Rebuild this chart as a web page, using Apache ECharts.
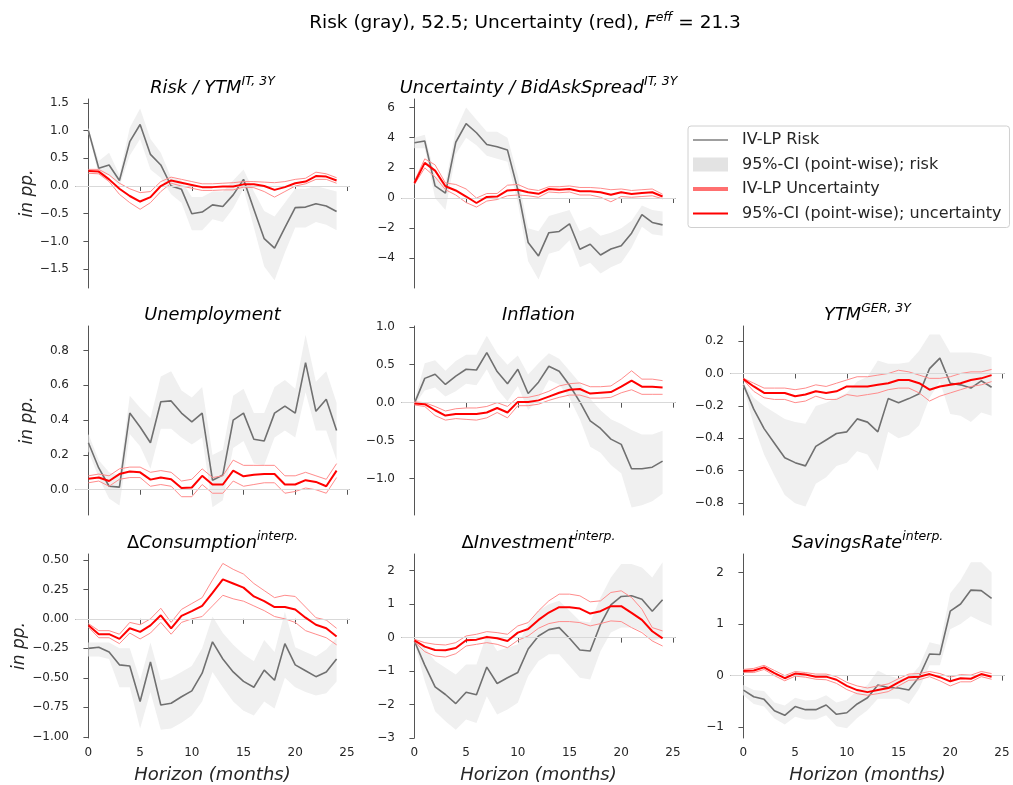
<!DOCTYPE html>
<html>
<head>
<meta charset="utf-8">
<script src="https://cdn.jsdelivr.net/npm/echarts@6/dist/echarts.min.js"></script>
<style>
html, body { margin: 0; padding: 0; background: #fff; }
#chart { width: 1013px; height: 785px; }
</style>
</head>
<body>
<div id="chart"></div>
<script>
var horizon = [0, 1, 2, 3, 4, 5, 6, 7, 8, 9, 10, 11, 12, 13, 14, 15, 16, 17, 18, 19, 20, 21, 22, 23, 24];
var xTicks = [0, 5, 10, 15, 20, 25];

// Risk / YTM IT 3Y
var ytmRisk   = [1.0, 0.32, 0.38, 0.1, 0.8, 1.11, 0.57, 0.38, 0.0, -0.06, -0.5, -0.47, -0.34, -0.37, -0.16, 0.12, -0.42, -0.95, -1.12, -0.75, -0.39, -0.38, -0.32, -0.36, -0.46];
var ytmRiskHi = [1.05, 0.45, 0.6, 0.2, 1.05, 1.4, 0.85, 0.6, 0.15, 0.1, -0.2, -0.2, -0.1, -0.1, 0.1, 0.3, -0.1, -0.45, -0.55, -0.3, -0.05, -0.05, 0.0, -0.05, -0.1];
var ytmRiskLo = [0.95, 0.2, 0.2, 0.0, 0.55, 0.85, 0.3, 0.15, -0.15, -0.3, -0.8, -0.8, -0.6, -0.65, -0.4, -0.05, -0.75, -1.45, -1.7, -1.2, -0.75, -0.75, -0.65, -0.7, -0.8];
var ytmUnc    = [0.27, 0.26, 0.12, -0.05, -0.18, -0.28, -0.2, 0.0, 0.1, 0.06, 0.02, -0.02, -0.02, -0.01, -0.01, 0.03, 0.03, 0.0, -0.07, -0.02, 0.05, 0.08, 0.18, 0.17, 0.1];
var ytmUncHi  = [0.3, 0.3, 0.2, 0.05, -0.05, -0.12, -0.1, 0.08, 0.16, 0.12, 0.08, 0.04, 0.04, 0.05, 0.06, 0.08, 0.08, 0.07, 0.06, 0.08, 0.12, 0.14, 0.25, 0.22, 0.15];
var ytmUncLo  = [0.23, 0.22, 0.08, -0.15, -0.3, -0.42, -0.3, -0.1, 0.05, 0.0, -0.04, -0.08, -0.08, -0.07, -0.07, -0.02, -0.03, -0.1, -0.2, -0.1, 0.0, 0.04, 0.12, 0.12, 0.05];

// Uncertainty / BidAskSpread IT 3Y
var basRisk   = [3.67, 3.78, 0.8, 0.33, 3.7, 4.93, 4.33, 3.55, 3.4, 3.18, 0.55, -2.95, -3.84, -2.3, -2.22, -1.71, -3.4, -3.07, -3.78, -3.38, -3.16, -2.33, -1.1, -1.62, -1.78];
var basRiskHi = [4.0, 4.2, 1.5, 1.0, 4.5, 6.0, 5.2, 4.4, 4.4, 4.0, 1.5, -2.0, -2.2, -1.2, -1.0, -0.8, -2.2, -1.9, -2.5, -2.3, -2.0, -1.5, -0.5, -0.8, -0.9];
var basRiskLo = [3.3, 3.3, 0.0, -0.8, 2.9, 4.0, 3.5, 2.8, 2.6, 2.4, -0.3, -4.2, -5.4, -3.7, -3.5, -2.8, -4.6, -4.3, -5.0, -4.6, -4.3, -3.3, -1.9, -2.4, -2.5];
var basUnc    = [1.0, 2.33, 1.82, 0.78, 0.5, 0.1, -0.33, 0.07, 0.1, 0.5, 0.55, 0.38, 0.28, 0.6, 0.55, 0.6, 0.45, 0.45, 0.38, 0.22, 0.38, 0.27, 0.33, 0.38, 0.1];
var basUncHi  = [1.1, 2.6, 2.2, 1.0, 0.9, 0.6, 0.0, 0.3, 0.3, 0.85, 0.9, 0.6, 0.5, 0.75, 0.75, 0.8, 0.7, 0.7, 0.65, 0.55, 0.6, 0.5, 0.55, 0.6, 0.25];
var basUncLo  = [0.9, 2.0, 1.4, 0.55, 0.2, -0.3, -0.6, -0.2, -0.1, 0.15, 0.2, 0.15, 0.05, 0.4, 0.35, 0.4, 0.2, 0.2, 0.05, -0.25, 0.1, 0.05, 0.1, 0.15, -0.05];

// Unemployment
var unRisk   = [0.27, 0.125, 0.02, 0.015, 0.44, 0.36, 0.27, 0.505, 0.51, 0.44, 0.39, 0.44, 0.055, 0.085, 0.4, 0.44, 0.29, 0.28, 0.44, 0.48, 0.44, 0.73, 0.45, 0.52, 0.34];
var unRiskHi = [0.32, 0.17, 0.1, 0.08, 0.54, 0.47, 0.41, 0.65, 0.68, 0.57, 0.53, 0.59, 0.2, 0.23, 0.54, 0.58, 0.44, 0.44, 0.59, 0.63, 0.58, 0.89, 0.62, 0.68, 0.5];
var unRiskLo = [0.22, 0.07, -0.05, -0.09, 0.32, 0.25, 0.12, 0.35, 0.35, 0.3, 0.26, 0.3, -0.1, -0.06, 0.24, 0.28, 0.15, 0.14, 0.3, 0.34, 0.3, 0.56, 0.34, 0.34, 0.17];
var unUnc    = [0.063, 0.07, 0.05, 0.09, 0.105, 0.1, 0.058, 0.07, 0.06, 0.01, 0.013, 0.08, 0.03, 0.03, 0.11, 0.077, 0.086, 0.09, 0.09, 0.03, 0.03, 0.055, 0.045, 0.02, 0.11];
var unUncHi  = [0.08, 0.09, 0.08, 0.12, 0.13, 0.13, 0.1, 0.11, 0.1, 0.05, 0.06, 0.12, 0.07, 0.08, 0.17, 0.14, 0.14, 0.14, 0.14, 0.08, 0.08, 0.1, 0.08, 0.06, 0.15];
var unUncLo  = [0.04, 0.05, 0.02, 0.06, 0.07, 0.07, 0.02, 0.03, 0.02, -0.04, -0.04, 0.03, -0.02, -0.02, 0.05, 0.02, 0.03, 0.04, 0.04, -0.02, -0.01, 0.01, 0.0, -0.02, 0.07];

// Inflation
var infRisk   = [-0.01, 0.32, 0.375, 0.24, 0.35, 0.44, 0.43, 0.66, 0.41, 0.25, 0.44, 0.12, 0.27, 0.48, 0.415, 0.23, 0.01, -0.24, -0.34, -0.48, -0.55, -0.87, -0.87, -0.85, -0.77];
var infRiskHi = [0.02, 0.52, 0.56, 0.42, 0.55, 0.63, 0.63, 0.88, 0.65, 0.5, 0.62, 0.37, 0.52, 0.65, 0.58, 0.42, 0.26, 0.05, -0.1, -0.22, -0.28, -0.36, -0.42, -0.42, -0.37];
var infRiskLo = [-0.03, 0.16, 0.2, 0.08, 0.15, 0.25, 0.23, 0.44, 0.18, 0.02, 0.22, -0.1, 0.05, 0.3, 0.24, 0.06, -0.22, -0.58, -0.66, -0.82, -0.93, -1.38, -1.35, -1.3, -1.2];
var infUnc    = [-0.01, -0.02, -0.1, -0.17, -0.15, -0.15, -0.15, -0.13, -0.07, -0.13, 0.01, 0.01, 0.03, 0.08, 0.13, 0.17, 0.18, 0.12, 0.13, 0.14, 0.21, 0.29, 0.21, 0.21, 0.2];
var infUncHi  = [0.01, 0.0, -0.05, -0.11, -0.08, -0.07, -0.07, -0.05, 0.0, -0.05, 0.07, 0.07, 0.1, 0.15, 0.22, 0.25, 0.26, 0.21, 0.21, 0.22, 0.31, 0.42, 0.31, 0.31, 0.29];
var infUncLo  = [-0.03, -0.05, -0.17, -0.23, -0.21, -0.22, -0.23, -0.2, -0.13, -0.2, -0.04, -0.04, -0.02, 0.03, 0.07, 0.1, 0.1, 0.06, 0.06, 0.07, 0.13, 0.17, 0.11, 0.11, 0.11];

// YTM GER 3Y
var gerRisk   = [-0.07, -0.22, -0.34, -0.43, -0.52, -0.55, -0.57, -0.45, -0.41, -0.37, -0.36, -0.28, -0.3, -0.36, -0.155, -0.18, -0.155, -0.125, 0.03, 0.095, -0.06, -0.07, -0.09, -0.045, -0.085];
var gerRiskHi = [-0.06, -0.15, -0.2, -0.24, -0.28, -0.3, -0.31, -0.2, -0.18, -0.15, -0.12, -0.05, -0.02, 0.08, 0.06, 0.06, 0.07, 0.14, 0.24, 0.24, 0.13, 0.13, 0.13, 0.12, 0.1];
var gerRiskLo = [-0.08, -0.32, -0.5, -0.63, -0.75, -0.8, -0.82, -0.68, -0.64, -0.57, -0.55, -0.48, -0.5, -0.6, -0.36, -0.4, -0.38, -0.32, -0.15, -0.05, -0.25, -0.26, -0.3, -0.24, -0.26];
var gerUnc    = [-0.035, -0.08, -0.12, -0.12, -0.12, -0.14, -0.13, -0.11, -0.12, -0.11, -0.08, -0.08, -0.08, -0.07, -0.06, -0.04, -0.04, -0.06, -0.1, -0.08, -0.07, -0.06, -0.04, -0.03, -0.01];
var gerUncHi  = [-0.03, -0.06, -0.09, -0.09, -0.09, -0.1, -0.09, -0.07, -0.08, -0.06, -0.04, -0.02, -0.02, -0.01, 0.0, 0.02, 0.01, -0.01, -0.03, -0.03, -0.02, 0.0, 0.01, 0.01, 0.025];
var gerUncLo  = [-0.04, -0.11, -0.15, -0.16, -0.16, -0.18, -0.17, -0.14, -0.16, -0.16, -0.13, -0.14, -0.13, -0.12, -0.1, -0.09, -0.09, -0.12, -0.17, -0.14, -0.12, -0.1, -0.08, -0.07, -0.05];

// Delta Consumption
var conRisk   = [-0.25, -0.24, -0.28, -0.39, -0.4, -0.7, -0.365, -0.73, -0.715, -0.66, -0.61, -0.46, -0.195, -0.34, -0.45, -0.53, -0.58, -0.435, -0.52, -0.21, -0.39, -0.44, -0.49, -0.45, -0.34];
var conRiskHi = [-0.2, -0.2, -0.2, -0.25, -0.25, -0.52, -0.2, -0.52, -0.5, -0.45, -0.4, -0.25, 0.02, -0.12, -0.22, -0.3, -0.36, -0.18, -0.28, 0.06, -0.24, -0.28, -0.32, -0.26, -0.16];
var conRiskLo = [-0.32, -0.32, -0.34, -0.58, -0.58, -0.93, -0.62, -0.94, -0.93, -0.88, -0.82, -0.7, -0.45, -0.58, -0.7, -0.78, -0.82, -0.7, -0.76, -0.5, -0.58, -0.62, -0.65, -0.63, -0.53];
var conUnc    = [-0.055, -0.13, -0.13, -0.17, -0.08, -0.11, -0.055, 0.03, -0.08, 0.025, 0.065, 0.11, 0.22, 0.335, 0.3, 0.265, 0.19, 0.15, 0.1, 0.1, 0.08, 0.01, -0.05, -0.08, -0.15];
var conUncHi  = [-0.04, -0.1, -0.1, -0.13, -0.03, -0.05, 0.0, 0.09, -0.03, 0.08, 0.13, 0.18, 0.33, 0.47, 0.42, 0.38, 0.3, 0.24, 0.18, 0.2, 0.19, 0.1, 0.01, -0.01, -0.08];
var conUncLo  = [-0.07, -0.16, -0.16, -0.21, -0.12, -0.17, -0.12, -0.03, -0.13, -0.03, 0.0, 0.02, 0.11, 0.2, 0.17, 0.15, 0.11, 0.07, 0.02, 0.0, -0.03, -0.1, -0.13, -0.16, -0.22];

// Delta Investment
var invRisk   = [-0.1, -0.82, -1.47, -1.7, -1.97, -1.63, -1.71, -0.88, -1.37, -1.2, -1.04, -0.34, 0.05, 0.24, 0.3, -0.02, -0.37, -0.4, 0.4, 0.98, 1.23, 1.25, 1.15, 0.79, 1.13];
var invRiskHi = [-0.05, -0.3, -0.7, -0.9, -1.1, -0.8, -0.8, 0.1, -0.4, -0.3, -0.2, 0.4, 0.8, 1.0, 1.1, 0.8, 0.5, 0.45, 1.2, 1.8, 2.2, 2.2, 2.1, 1.8, 2.25];
var invRiskLo = [-0.15, -1.3, -2.2, -2.5, -2.75, -2.45, -2.55, -1.75, -2.3, -2.15, -1.95, -1.15, -0.7, -0.5, -0.5, -0.85, -1.2, -1.25, -0.4, 0.15, 0.3, 0.3, 0.2, -0.1, 0.0];
var invUnc    = [-0.08, -0.27, -0.37, -0.38, -0.31, -0.08, -0.06, 0.02, -0.02, -0.1, 0.15, 0.26, 0.53, 0.75, 0.91, 0.91, 0.87, 0.72, 0.79, 0.94, 0.94, 0.74, 0.53, 0.19, -0.02];
var invUncHi  = [-0.05, -0.15, -0.2, -0.22, -0.15, 0.05, 0.1, 0.18, 0.15, 0.1, 0.35, 0.45, 0.8, 1.1, 1.3, 1.3, 1.25, 1.07, 1.1, 1.35, 1.4, 1.2, 0.85, 0.3, 0.2];
var invUncLo  = [-0.12, -0.42, -0.55, -0.58, -0.48, -0.25, -0.2, -0.15, -0.2, -0.3, -0.08, 0.05, 0.28, 0.42, 0.48, 0.48, 0.45, 0.35, 0.42, 0.5, 0.48, 0.3, 0.15, -0.1, -0.25];

// Savings rate
var savRisk   = [-0.28, -0.41, -0.46, -0.68, -0.77, -0.6, -0.66, -0.66, -0.57, -0.75, -0.72, -0.55, -0.43, -0.18, -0.23, -0.24, -0.28, -0.02, 0.42, 0.41, 1.25, 1.39, 1.66, 1.65, 1.5];
var savRiskHi = [-0.18, -0.28, -0.3, -0.52, -0.58, -0.43, -0.48, -0.47, -0.38, -0.52, -0.47, -0.3, -0.18, 0.1, 0.0, -0.05, -0.05, 0.18, 0.65, 0.6, 1.6, 1.85, 2.2, 2.2, 2.0];
var savRiskLo = [-0.38, -0.55, -0.6, -0.83, -0.95, -0.8, -0.85, -0.85, -0.77, -0.98, -1.02, -0.82, -0.67, -0.45, -0.45, -0.45, -0.55, -0.25, 0.2, 0.2, 0.9, 1.0, 1.15, 1.05, 0.97];
var savUnc    = [0.09, 0.1, 0.16, 0.05, -0.05, 0.04, 0.02, -0.02, -0.02, -0.08, -0.2, -0.28, -0.32, -0.28, -0.24, -0.13, -0.03, -0.02, 0.03, -0.03, -0.11, -0.05, -0.06, 0.03, -0.02];
var savUncHi  = [0.12, 0.14, 0.2, 0.1, 0.0, 0.08, 0.06, 0.03, 0.03, -0.02, -0.13, -0.2, -0.24, -0.2, -0.16, -0.06, 0.03, 0.04, 0.08, 0.04, -0.03, 0.02, 0.01, 0.08, 0.04];
var savUncLo  = [0.06, 0.06, 0.12, 0.0, -0.1, -0.01, -0.03, -0.07, -0.08, -0.15, -0.27, -0.35, -0.38, -0.35, -0.31, -0.2, -0.09, -0.08, -0.02, -0.1, -0.2, -0.12, -0.12, -0.02, -0.07];

// y tick labels
var ytmTicks = [-1.5, -1.0, -0.5, 0.0, 0.5, 1.0, 1.5];
var basTicks = [-4, -2, 0, 2, 4, 6];
var unTicks  = [0.0, 0.2, 0.4, 0.6, 0.8];
var infTicks = [-1.0, -0.5, 0.0, 0.5, 1.0];
var gerTicks = [-0.8, -0.6, -0.4, -0.2, 0.0, 0.2];
var conTicks = [-1.0, -0.75, -0.5, -0.25, 0.0, 0.25, 0.5];
var invTicks = [-3, -2, -1, 0, 1, 2];
var savTicks = [-1, 0, 1, 2];

var colLeft = [76, 402, 731];
var rowTop = [99, 326, 554];
var cellW = 273, cellH = 189;

var panels = [
  { row: 0, col: 0, title: '{t|Risk / YTM}{s|IT, 3Y}', risk: ytmRisk, riskHi: ytmRiskHi, riskLo: ytmRiskLo, unc: ytmUnc, uncHi: ytmUncHi, uncLo: ytmUncLo, ticks: ytmTicks, min: -1.84, max: 1.57, dec: 1 },
  { row: 0, col: 1, title: '{t|Uncertainty / BidAskSpread}{s|IT, 3Y}', risk: basRisk, riskHi: basRiskHi, riskLo: basRiskLo, unc: basUnc, uncHi: basUncHi, uncLo: basUncLo, ticks: basTicks, min: -5.97, max: 6.57, dec: 0 },
  { row: 1, col: 0, title: '{t|Unemployment}', risk: unRisk, riskHi: unRiskHi, riskLo: unRiskLo, unc: unUnc, uncHi: unUncHi, uncLo: unUncLo, ticks: unTicks, min: -0.145, max: 0.94, dec: 1 },
  { row: 1, col: 1, title: '{t|Inflation}', risk: infRisk, riskHi: infRiskHi, riskLo: infRiskLo, unc: infUnc, uncHi: infUncHi, uncLo: infUncLo, ticks: infTicks, min: -1.48, max: 1.01, dec: 1 },
  { row: 1, col: 2, title: '{t|YTM}{s|GER, 3Y}', risk: gerRisk, riskHi: gerRiskHi, riskLo: gerRiskLo, unc: gerUnc, uncHi: gerUncHi, uncLo: gerUncLo, ticks: gerTicks, min: -0.873, max: 0.293, dec: 1 },
  { row: 2, col: 0, title: '{d|\u0394}{t|Consumption}{s|interp.}', risk: conRisk, riskHi: conRiskHi, riskLo: conRiskLo, unc: conUnc, uncHi: conUncHi, uncLo: conUncLo, ticks: conTicks, min: -1.01, max: 0.55, dec: 2 },
  { row: 2, col: 1, title: '{d|\u0394}{t|Investment}{s|interp.}', risk: invRisk, riskHi: invRiskHi, riskLo: invRiskLo, unc: invUnc, uncHi: invUncHi, uncLo: invUncLo, ticks: invTicks, min: -3.0, max: 2.5, dec: 0 },
  { row: 2, col: 2, title: '{t|SavingsRate}{s|interp.}', risk: savRisk, riskHi: savRiskHi, riskLo: savRiskLo, unc: savUnc, uncHi: savUncHi, uncLo: savUncLo, ticks: savTicks, min: -1.21, max: 2.36, dec: 0 }
];

var axisColor = '#555555';
var textColor = '#262626';
var bandColor = '#f0f0f0';
var riskColor = '#707070';
var uncColor = '#ff0000';
var ciColor = '#ff8c8c';
var font = 'DejaVu Sans';

function pairs(arr) {
  return horizon.map(function (h, i) { return [h, arr[i]]; });
}
function fmt(dec) {
  return function (v) { return v.toFixed(dec).replace('-', '\u2212'); };
}
// legend line icon: a bar of thickness t centred in a 35x14 box
function lineIcon(t) {
  var a = (7 - t / 2).toFixed(2), b = (7 + t / 2).toFixed(2);
  return 'path://M0,0L35,0L35,0.01L0,0.01Z M0,' + a + 'L35,' + a + 'L35,' + b + 'L0,' + b + 'Z M0,13.99L35,13.99L35,14L0,14Z';
}
// CI band polygon: lower edge forwards, upper edge back
function renderBand(params, api) {
  if (params.dataIndexInside !== 0) return null;
  var n = params.dataInsideLength, pts = [], k;
  for (k = 0; k < n; k++) pts.push(api.coord([api.value(0, k), api.value(1, k)]));
  for (k = n - 1; k >= 0; k--) pts.push(api.coord([api.value(0, k), api.value(2, k)]));
  return { type: 'polygon', shape: { points: pts }, style: { fill: bandColor, stroke: null } };
}

var titleRich = {
  t: { fontFamily: font, fontSize: 17.8, fontStyle: 'italic', color: textColor, verticalAlign: 'bottom', lineHeight: 22 },
  d: { fontFamily: font, fontSize: 17.8, color: textColor, verticalAlign: 'bottom', lineHeight: 22 },
  s: { fontFamily: font, fontSize: 12.5, fontStyle: 'italic', color: textColor, verticalAlign: 'top', lineHeight: 13 }
};

var grids = [], xAxes = [], yAxes = [], series = [];
var graphics = [{
  type: 'text', x: 525, y: 22,
  style: {
    text: '{n|Risk (gray), 52.5; Uncertainty (red), }{i|F}{s|eff}{n| = 21.3}',
    textAlign: 'center', textVerticalAlign: 'middle',
    rich: {
      n: { fontFamily: font, fontSize: 18.5, color: textColor, verticalAlign: 'bottom', lineHeight: 22 },
      i: { fontFamily: font, fontSize: 18.5, fontStyle: 'italic', color: textColor, verticalAlign: 'bottom', lineHeight: 22 },
      s: { fontFamily: font, fontSize: 12.5, fontStyle: 'italic', color: textColor, verticalAlign: 'top', lineHeight: 13 }
    }
  }
}];

panels.forEach(function (p, i) {
  var left = colLeft[p.col], top = rowTop[p.row];
  grids.push({ left: left, top: top, width: cellW, height: cellH });
  graphics.push({
    type: 'text', x: left + cellW / 2, y: top - 13,
    style: { text: p.title, textAlign: 'center', textVerticalAlign: 'middle', rich: titleRich }
  });
  xAxes.push({
    type: 'value', gridIndex: i, min: -1.2, max: 25.2,
    axisLine: { lineStyle: { color: axisColor, width: 1 } },
    axisTick: { length: 5, lineStyle: { color: axisColor }, customValues: xTicks },
    axisLabel: { show: p.row === 2, customValues: xTicks, color: textColor, fontSize: 12, fontFamily: font, margin: 9 },
    splitLine: { show: false },
    name: p.row === 2 ? 'Horizon (months)' : '',
    nameLocation: 'middle', nameGap: 28,
    nameTextStyle: { fontStyle: 'italic', fontSize: 18, fontFamily: font, color: textColor }
  });
  yAxes.push({
    type: 'value', gridIndex: i, min: p.min, max: p.max,
    axisLine: { show: true, lineStyle: { color: axisColor, width: 1 } },
    axisTick: { show: true, length: 5, lineStyle: { color: axisColor }, customValues: p.ticks },
    axisLabel: { customValues: p.ticks, formatter: fmt(p.dec), color: textColor, fontSize: 12, fontFamily: font, margin: 7 },
    splitLine: { show: false },
    name: p.col === 0 ? 'in pp.' : '',
    nameLocation: 'middle', nameGap: 40,
    nameTextStyle: { fontStyle: 'italic', fontSize: 17, fontFamily: font, color: textColor }
  });
  series.push({
    type: 'custom', name: '95%-CI (point-wise); risk', xAxisIndex: i, yAxisIndex: i,
    data: horizon.map(function (h, k) { return [h, p.riskLo[k], p.riskHi[k]]; }),
    encode: { x: 0, y: [1, 2] }, renderItem: renderBand, silent: true, color: bandColor, z: 1
  });
  series.push({
    type: 'line', name: 'IV-LP Risk', xAxisIndex: i, yAxisIndex: i, data: pairs(p.risk),
    symbol: 'none', color: riskColor, lineStyle: { width: 1.6, color: riskColor }, z: 3,
    markLine: {
      silent: true, symbol: 'none', label: { show: false },
      lineStyle: { color: '#d9d9d9', width: 1, type: 'solid' },
      data: [{ yAxis: 0 }]
    }
  });
  series.push({
    type: 'line', name: '95%-CI (point-wise); uncertainty', xAxisIndex: i, yAxisIndex: i, data: pairs(p.uncHi),
    symbol: 'none', color: ciColor, lineStyle: { width: 1, color: ciColor }, z: 4
  });
  series.push({
    type: 'line', name: '95%-CI (point-wise); uncertainty', xAxisIndex: i, yAxisIndex: i, data: pairs(p.uncLo),
    symbol: 'none', color: ciColor, lineStyle: { width: 1, color: ciColor }, z: 4
  });
  series.push({
    type: 'line', name: 'IV-LP Uncertainty', xAxisIndex: i, yAxisIndex: i, data: pairs(p.unc),
    symbol: 'none', color: uncColor, lineStyle: { width: 2, color: uncColor }, z: 5
  });
});

var chart = echarts.init(document.getElementById('chart'), null, { renderer: 'canvas' });
chart.setOption({
  animation: false,
  backgroundColor: '#fff',
  grid: grids,
  xAxis: xAxes,
  yAxis: yAxes,
  graphic: graphics,
  legend: {
    orient: 'vertical', left: 688, top: 126,
    padding: [5, 8, 5, 5], itemGap: 6.5, itemWidth: 35, itemHeight: 14,
    borderColor: '#d0d0d0', borderWidth: 1, borderRadius: 3, backgroundColor: '#fff',
    selectedMode: false,
    textStyle: { fontFamily: font, fontSize: 16, color: textColor, lineHeight: 18, padding: [0, 0, 0, 9] },
    data: [
      { name: 'IV-LP Risk', icon: lineIcon(1.6), itemStyle: { color: '#808080' } },
      { name: '95%-CI (point-wise); risk', icon: 'rect', itemStyle: { color: '#e3e3e3' } },
      { name: 'IV-LP Uncertainty', icon: lineIcon(4), itemStyle: { color: '#ff7070' } },
      { name: '95%-CI (point-wise); uncertainty', icon: lineIcon(2), itemStyle: { color: '#ff0000' } }
    ]
  },
  series: series
});
</script>
</body>
</html>
